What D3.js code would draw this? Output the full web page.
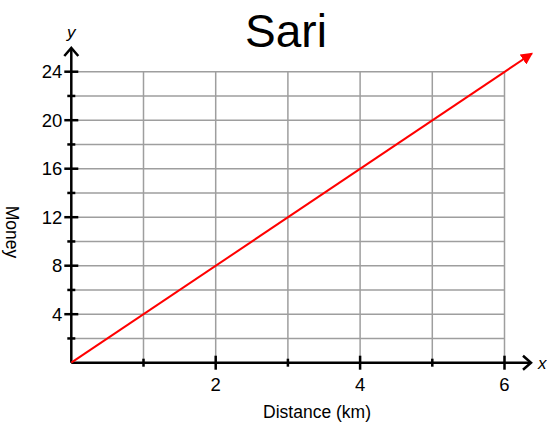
<!DOCTYPE html>
<html>
<head>
<meta charset="utf-8">
<script src="https://cdn.jsdelivr.net/npm/d3@7"></script>
<style>
  body { margin: 0; background: #fff; }
  text { font-family: "Liberation Sans", Arial, sans-serif; }
</style>
</head>
<body>
<div id="chart"></div>
<script>
// --- data ---
const distance = [0, 6.38];        // km, line runs past the grid to the arrow
const money = [0, 25.5];
const xGrid = [1, 2, 3, 4, 5, 6];
const yGrid = [2, 4, 6, 8, 10, 12, 14, 16, 18, 20, 22, 24];
const xTickLabels = [2, 4, 6];
const yTickLabels = [4, 8, 12, 16, 20, 24];

const W = 547, H = 425;
const svg = d3.select("#chart").append("svg")
  .attr("width", W).attr("height", H);

// --- scales ---
const x = d3.scaleLinear().domain([0, 6]).range([71.3, 504.5]);
const y = d3.scaleLinear().domain([0, 24]).range([362.7, 71.7]);

// --- grid ---
const grid = svg.append("g")
  .attr("stroke", "#9e9e9e")
  .attr("stroke-width", 1.5);
grid.selectAll("line.v").data(xGrid).join("line")
  .attr("class", "v")
  .attr("x1", d => x(d)).attr("x2", d => x(d))
  .attr("y1", y(0)).attr("y2", y(24));
grid.selectAll("line.h").data(yGrid).join("line")
  .attr("class", "h")
  .attr("x1", x(0)).attr("x2", x(6))
  .attr("y1", d => y(d)).attr("y2", d => y(d));

// --- axes ---
const axes = svg.append("g")
  .attr("stroke", "#000")
  .attr("fill", "none")
  .attr("stroke-linecap", "butt");
const xEnd = 531, yEnd = 48;
axes.append("line")
  .attr("x1", x(0)).attr("x2", xEnd)
  .attr("y1", y(0)).attr("y2", y(0))
  .attr("stroke-width", 2.5);
axes.append("line")
  .attr("x1", x(0)).attr("x2", x(0))
  .attr("y1", y(0)).attr("y2", yEnd)
  .attr("stroke-width", 2.5);
// open arrow heads
axes.append("path")
  .attr("d", `M${xEnd - 8},${y(0) - 7} L${xEnd},${y(0)} L${xEnd - 8},${y(0) + 7}`)
  .attr("stroke-width", 2.5);
axes.append("path")
  .attr("d", `M${x(0) - 7},${yEnd + 8} L${x(0)},${yEnd} L${x(0) + 7},${yEnd + 8}`)
  .attr("stroke-width", 2.5);

// ticks: labelled ones are longer
axes.selectAll("line.xt").data(xGrid).join("line")
  .attr("class", "xt")
  .attr("x1", d => x(d)).attr("x2", d => x(d))
  .attr("y1", d => y(0) - (xTickLabels.includes(d) ? 7 : 4))
  .attr("y2", d => y(0) + (xTickLabels.includes(d) ? 7 : 4))
  .attr("stroke-width", 2.5);
axes.selectAll("line.yt").data(yGrid).join("line")
  .attr("class", "yt")
  .attr("y1", d => y(d)).attr("y2", d => y(d))
  .attr("x1", d => x(0) - (yTickLabels.includes(d) ? 7 : 4))
  .attr("x2", d => x(0) + (yTickLabels.includes(d) ? 7 : 4))
  .attr("stroke-width", 2.5);

// tick labels
svg.selectAll("text.xl").data(xTickLabels).join("text")
  .attr("class", "xl")
  .attr("x", d => x(d)).attr("y", y(0) + 28)
  .attr("text-anchor", "middle")
  .style("font-size", "18.5px")
  .text(d => d);
svg.selectAll("text.yl").data(yTickLabels).join("text")
  .attr("class", "yl")
  .attr("x", x(0) - 9).attr("y", d => y(d) + 6.5)
  .attr("text-anchor", "end")
  .style("font-size", "18.5px")
  .text(d => d);

// axis letters
svg.append("text")
  .attr("x", 538).attr("y", y(0) + 6)
  .style("font-size", "17px").style("font-style", "italic")
  .text("x");
svg.append("text")
  .attr("x", x(0)).attr("y", 38)
  .attr("text-anchor", "middle")
  .style("font-size", "17px").style("font-style", "italic")
  .text("y");

// axis titles
svg.append("text")
  .attr("x", 317).attr("y", 418)
  .attr("text-anchor", "middle")
  .style("font-size", "17.5px")
  .text("Distance (km)");
svg.append("text")
  .attr("transform", `translate(6,232) rotate(90)`)
  .attr("text-anchor", "middle")
  .style("font-size", "17.5px")
  .text("Money");

// title
svg.append("text")
  .attr("x", 286).attr("y", 47)
  .attr("text-anchor", "middle")
  .style("font-size", "46px")
  .text("Sari");

// --- red line with arrow ---
svg.append("defs").append("marker")
  .attr("id", "arrow")
  .attr("viewBox", "0 0 10 10")
  .attr("refX", 9).attr("refY", 5)
  .attr("markerWidth", 6).attr("markerHeight", 6)
  .attr("markerUnits", "strokeWidth")
  .attr("orient", "auto")
  .append("path")
  .attr("d", "M0,0 L10,5 L0,10 Z")
  .attr("fill", "#ff0000");

const pts = distance.map((d, i) => [d, money[i]]);
svg.append("path")
  .datum(pts)
  .attr("d", d3.line().x(d => x(d[0])).y(d => y(d[1])))
  .attr("stroke", "#ff0000")
  .attr("stroke-width", 2)
  .attr("fill", "none")
  .attr("marker-end", "url(#arrow)");
</script>
</body>
</html>
